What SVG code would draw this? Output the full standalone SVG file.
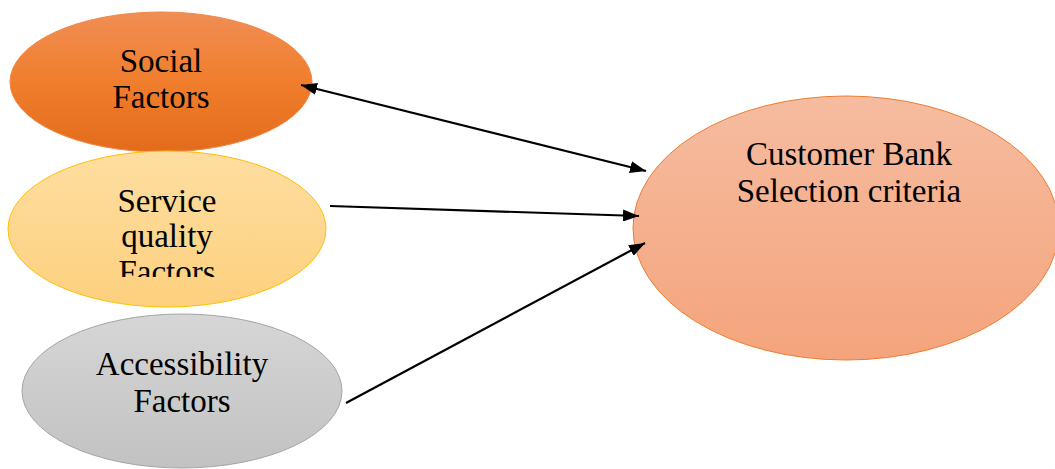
<svg xmlns="http://www.w3.org/2000/svg" width="1055" height="469" viewBox="0 0 1055 469">
  <defs>
    <linearGradient id="gSocial" x1="0" y1="0" x2="0" y2="1">
      <stop offset="0" stop-color="#F08E55"/>
      <stop offset="0.5" stop-color="#F07E2C"/>
      <stop offset="1" stop-color="#E36C1C"/>
    </linearGradient>
    <linearGradient id="gService" x1="0" y1="0" x2="0" y2="1">
      <stop offset="0" stop-color="#FEDEA0"/>
      <stop offset="1" stop-color="#FDD07E"/>
    </linearGradient>
    <linearGradient id="gAccess" x1="0" y1="0" x2="0" y2="1">
      <stop offset="0" stop-color="#D6D6D6"/>
      <stop offset="1" stop-color="#C2C2C2"/>
    </linearGradient>
    <linearGradient id="gTarget" x1="0" y1="0" x2="0" y2="1">
      <stop offset="0" stop-color="#F6BCA0"/>
      <stop offset="1" stop-color="#F4A47C"/>
    </linearGradient>
    <marker id="head" viewBox="0 0 16 12" refX="16" refY="6" markerWidth="16" markerHeight="12" markerUnits="userSpaceOnUse" orient="auto-start-reverse">
      <path d="M0,0 L16,6 L0,12 z" fill="#000"/>
    </marker>
    <clipPath id="clipService">
      <rect x="0" y="150" width="340" height="127"/>
    </clipPath>
  </defs>
  <style>
    .label { font-family: "Liberation Serif", "DejaVu Serif", serif; font-size: 33px; fill: #000; text-anchor: middle; }
    .conn { stroke: #000; stroke-width: 2.2; fill: none; }
  </style>

  <g id="node-social">
    <ellipse cx="161" cy="82" rx="151" ry="70" fill="url(#gSocial)" stroke="#EE8A4C" stroke-width="1"/>
    <text class="label" x="161" y="72">Social</text>
    <text class="label" x="161" y="108">Factors</text>
  </g>

  <g id="node-service">
    <ellipse cx="167" cy="229" rx="159" ry="78" fill="url(#gService)" stroke="#FFC000" stroke-width="1"/>
    <g clip-path="url(#clipService)">
      <text class="label" x="167" y="212">Service</text>
      <text class="label" x="167" y="247">quality</text>
      <text class="label" x="167" y="283">Factors</text>
    </g>
  </g>

  <g id="node-access">
    <ellipse cx="182" cy="391" rx="160" ry="77" fill="url(#gAccess)" stroke="#A5A5A5" stroke-width="1"/>
    <text class="label" x="182" y="375">Accessibility</text>
    <text class="label" x="182" y="412">Factors</text>
  </g>

  <g id="node-criteria">
    <ellipse cx="846" cy="228" rx="213" ry="132" fill="url(#gTarget)" stroke="#ED7D31" stroke-width="1"/>
    <text class="label" x="849" y="165">Customer Bank</text>
    <text class="label" x="849" y="202">Selection criteria</text>
  </g>

  <g id="connectors">
    <line class="conn" x1="301" y1="85" x2="646" y2="171" marker-start="url(#head)" marker-end="url(#head)"/>
    <line class="conn" x1="330" y1="206" x2="639" y2="216" marker-end="url(#head)"/>
    <line class="conn" x1="346" y1="403" x2="645" y2="243" marker-end="url(#head)"/>
  </g>
</svg>
